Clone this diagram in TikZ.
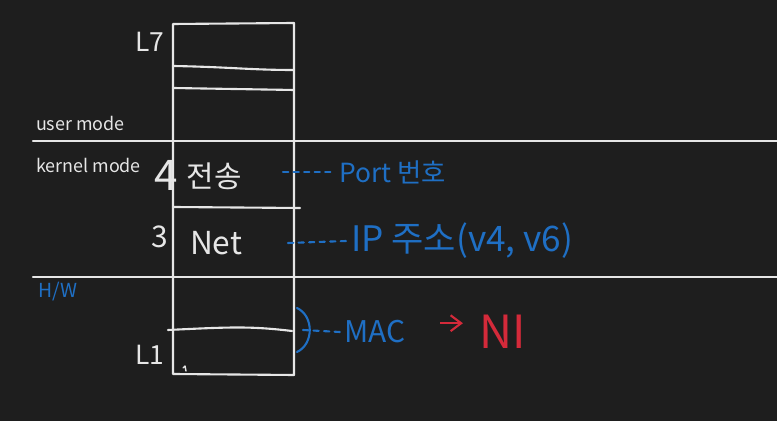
\documentclass[tikz,border=0pt]{standalone}
\usepackage{fontspec}
\setmainfont{Noto Sans CJK KR}
\usetikzlibrary{arrows.meta, positioning}
\definecolor{cbg}{HTML}{1E1E1E}
\definecolor{cchalk}{HTML}{E6E6E6}
\definecolor{cblue}{HTML}{1F6FC4}
\definecolor{cred}{HTML}{D42A3A}
\tikzset{
  every picture/.style={line width=1.2pt},
  chalk/.style={draw=cchalk, line cap=round, line join=round},
  ink/.style={text=cchalk, inner sep=0pt},
  blueink/.style={text=cblue, inner sep=0pt},
  redink/.style={text=cred, inner sep=0pt},
  lead/.style={draw=cblue, line cap=round, dash pattern=on 3pt off 3pt},
  sz/.style={font=\fontsize{#1}{#1}\selectfont},
}

\begin{document}
\begin{tikzpicture}[x={(0.02cm,0)}, y={(0,-0.02cm)}]
  % board
  \fill[cbg] (0,0) rectangle (777,421);
  \useasboundingbox (0,0) rectangle (777,421);
  % user / kernel / hardware borders
  \coordinate (um) at (33,141);
  \coordinate (ume) at (777,141);
  \coordinate (hw) at (33,277);
  \coordinate (hwe) at (777,277);
  \draw[chalk] (um) -- (ume);
  \draw[chalk] (hw) -- (hwe);
  % the layer stack
  \draw[chalk] (173,24) -- (294,23) -- (294,375) -- (173,374) -- cycle;
  \draw[chalk] (173,66) .. controls (230,67) and (250,70) .. (294,70);
  \draw[chalk] (173,88) -- (294,90);
  \draw[chalk] (173,207) -- (300,208);
  \draw[chalk] (168,330) .. controls (230,327) and (250,326) .. (292,331);
  \draw[chalk, line width=0.8pt] (183,368) -- (185,366) -- (186,371);
  % layer labels
  \node[ink, sz=15] (l7) at (150,42) {L7};
  \node[ink, sz=10.2, anchor=west] (user) at (35,123) {user mode};
  \node[ink, sz=10.2, anchor=west] (kernel) at (35,165) {kernel mode};
  \node[ink, sz=24] (n4) at (166,175) {4};
  \node[ink, sz=17] (tp) at (214,176) {전송};
  \node[ink, sz=17] (n3) at (160,237) {3};
  \node[ink, sz=18] (net) at (216,243) {Net};
  \node[ink, sz=15] (l1) at (150,355) {L1};
  \node[blueink, sz=11] (hwlbl) at (58,292) {H/W};
  % notes
  \node[blueink, sz=15, anchor=west] (port) at (338,172) {Port 번호};
  \node[blueink, sz=20, anchor=west] (ip) at (350,241) {IP 주소(v4, v6)};
  \node[blueink, sz=17] (mac) at (375,332) {MAC};
  \node[redink, sz=26] (ni) at (503,332) {NI};
  \coordinate (tpr) at (283,172);
  \coordinate (netr) at (288,243);
  \coordinate (bt) at (297,308);
  \coordinate (bb) at (297,352);
  \coordinate (bm) at (303,330);
  \draw[lead] (tpr) -- ([xshift=-3pt]port.west);
  \draw[lead] (netr) -- ([xshift=-2pt]ip.west);
  \draw[draw=cblue, line cap=round] (bt) .. controls (314,316) and (314,344) .. (bb);
  \draw[lead] (bm) -- ([xshift=-2pt]mac.west);
  \draw[draw=cred, -{Straight Barb[length=6pt, width=9pt]}, shorten <=19pt, shorten >=9pt]
    ([yshift=5pt]mac.east) -- ([yshift=5pt]ni.west);
\end{tikzpicture}
\end{document}
